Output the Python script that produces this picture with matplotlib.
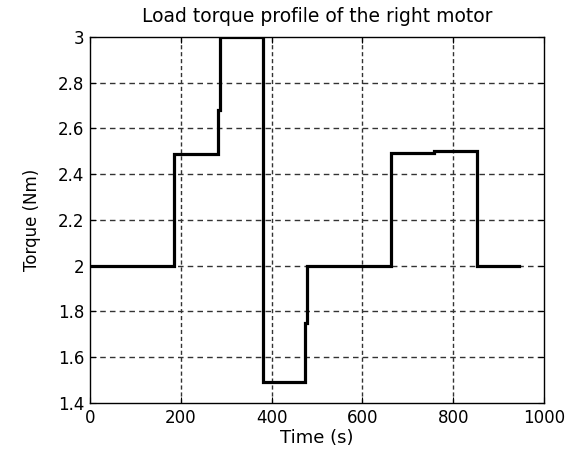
import matplotlib.pyplot as plt

# step profile (time in s, torque in Nm)
t = [0, 185, 185, 283, 283, 286, 286, 382, 382, 474, 474, 479, 479, 664, 664, 758, 758, 853, 853, 946]
torque = [2.0, 2.0, 2.49, 2.49, 2.68, 2.68, 3.0, 3.0, 1.49, 1.49, 1.75, 1.75, 2.0, 2.0, 2.494, 2.494, 2.503, 2.503, 2.0, 2.0]

xticks = [0, 200, 400, 600, 800, 1000]
yticks = [1.4, 1.6, 1.8, 2.0, 2.2, 2.4, 2.6, 2.8, 3.0]
ytick_labels = ['1.4', '1.6', '1.8', '2', '2.2', '2.4', '2.6', '2.8', '3']

plt.rcParams['font.family'] = ['DejaVu Sans']

fig = plt.figure(figsize=(5.78, 4.5), dpi=100)
ax = fig.add_axes([0.1557, 0.1044, 0.7855, 0.8136])

ax.plot(t, torque, color='black', linewidth=2.3, solid_joinstyle='miter')

ax.set_xlim(0, 1000)
ax.set_ylim(1.4, 3.0)
ax.set_xticks(xticks)
ax.set_yticks(yticks)
ax.set_yticklabels(ytick_labels)
ax.tick_params(direction='in', length=4, labelsize=12, top=True, right=True, colors='black', pad=4)

for x in xticks[1:-1]:
    ax.axvline(x, color='#333333', linewidth=1.0, linestyle=(0, (3, 2)), zorder=0)
for y in yticks[1:-1]:
    ax.axhline(y, color='#333333', linewidth=1.0, linestyle=(0, (4, 3)), zorder=0)

for s in ax.spines.values():
    s.set_linewidth(1.0)

ax.set_title('Load torque profile of the right motor', fontsize=13.5, pad=11)
ax.set_xlabel('Time (s)', fontsize=13, labelpad=2)
ax.set_ylabel('Torque (Nm)', fontsize=12, labelpad=12)

fig.savefig('out.png', dpi=100)
